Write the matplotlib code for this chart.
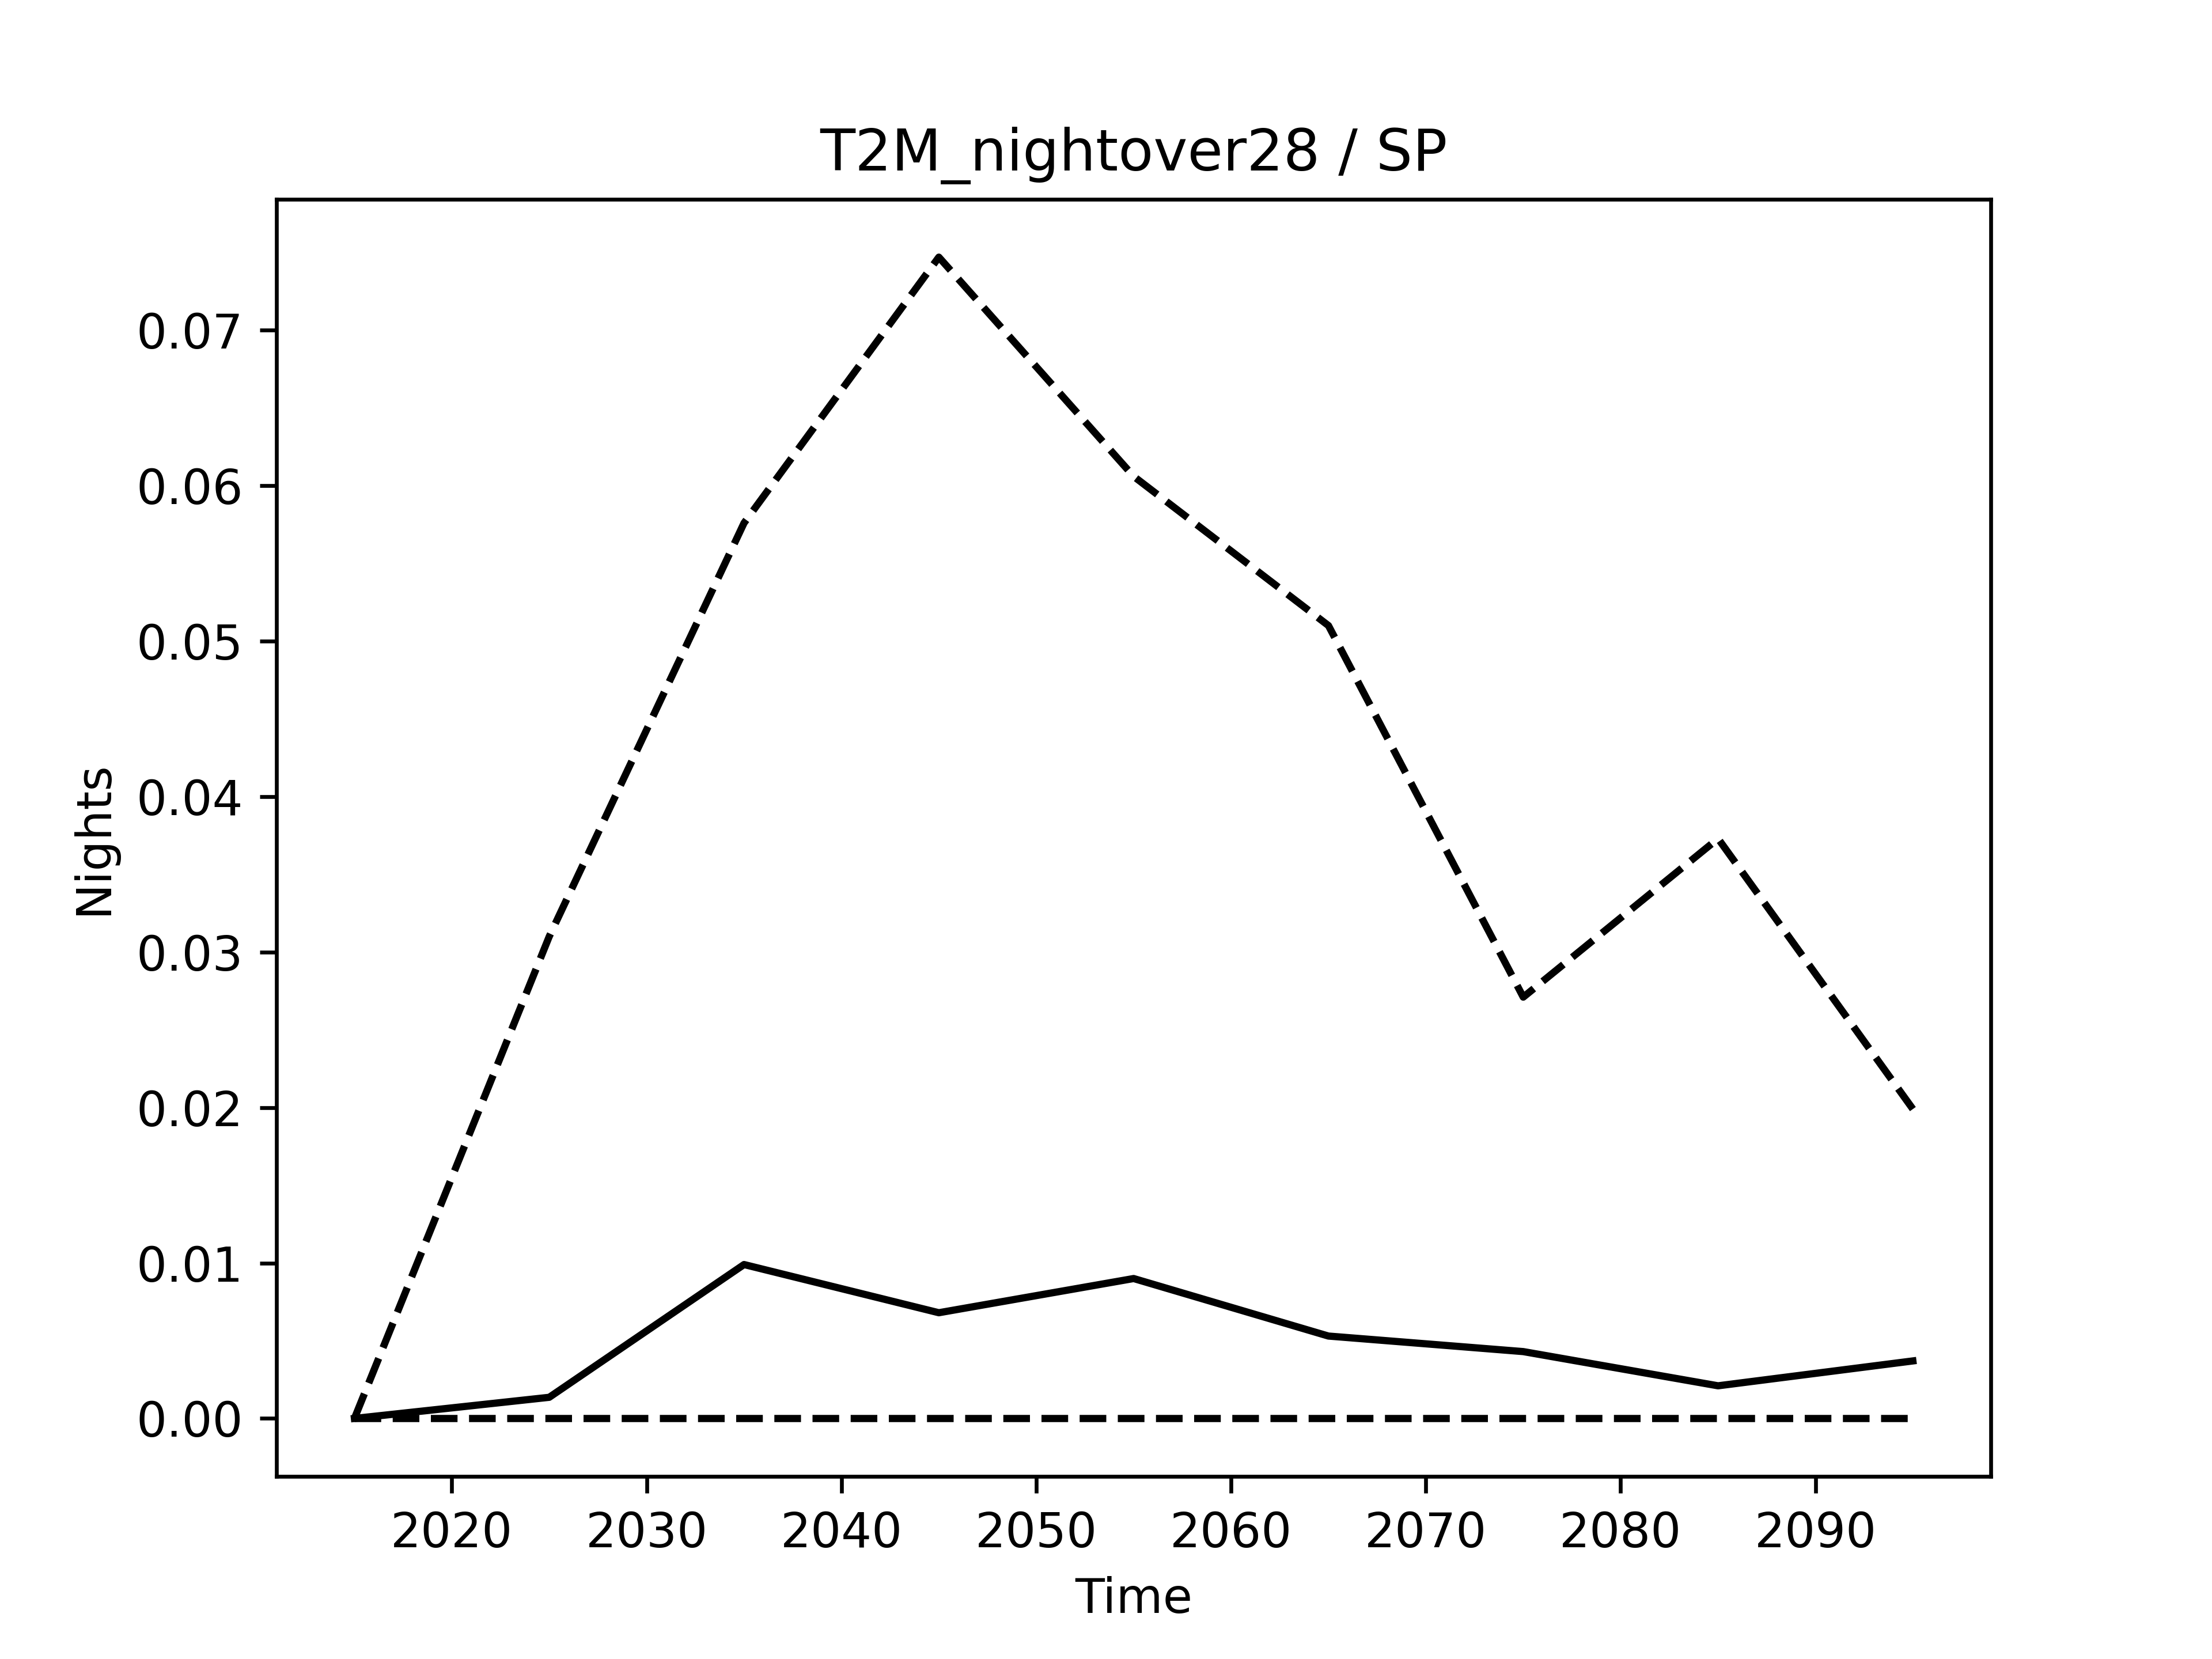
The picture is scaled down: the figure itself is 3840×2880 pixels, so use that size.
import matplotlib
matplotlib.use("Agg")
import matplotlib.pyplot as plt
import numpy as np

years = [2015, 2025, 2035, 2045, 2055, 2065, 2075, 2085, 2095]
mean_nights = [0.0, 0.00136, 0.0099, 0.0068, 0.0090, 0.0053, 0.0043, 0.0021, 0.0037]
upper_nights = [0.0, 0.0310, 0.0576, 0.0747, 0.0606, 0.0510, 0.0271, 0.0373, 0.0199]
lower_nights = [0.0, 0.0, 0.0, 0.0, 0.0, 0.0, 0.0, 0.0, 0.0]

fig, ax = plt.subplots(figsize=(6.4, 4.8))
ax.plot(years, mean_nights, "k-")
ax.plot(years, upper_nights, "k--")
ax.plot(years, lower_nights, "k--")
ax.set_title("T2M_nightover28 / SP")
ax.set_xlabel("Time")
ax.set_ylabel("Nights")

plt.savefig("out.png", dpi=600)
